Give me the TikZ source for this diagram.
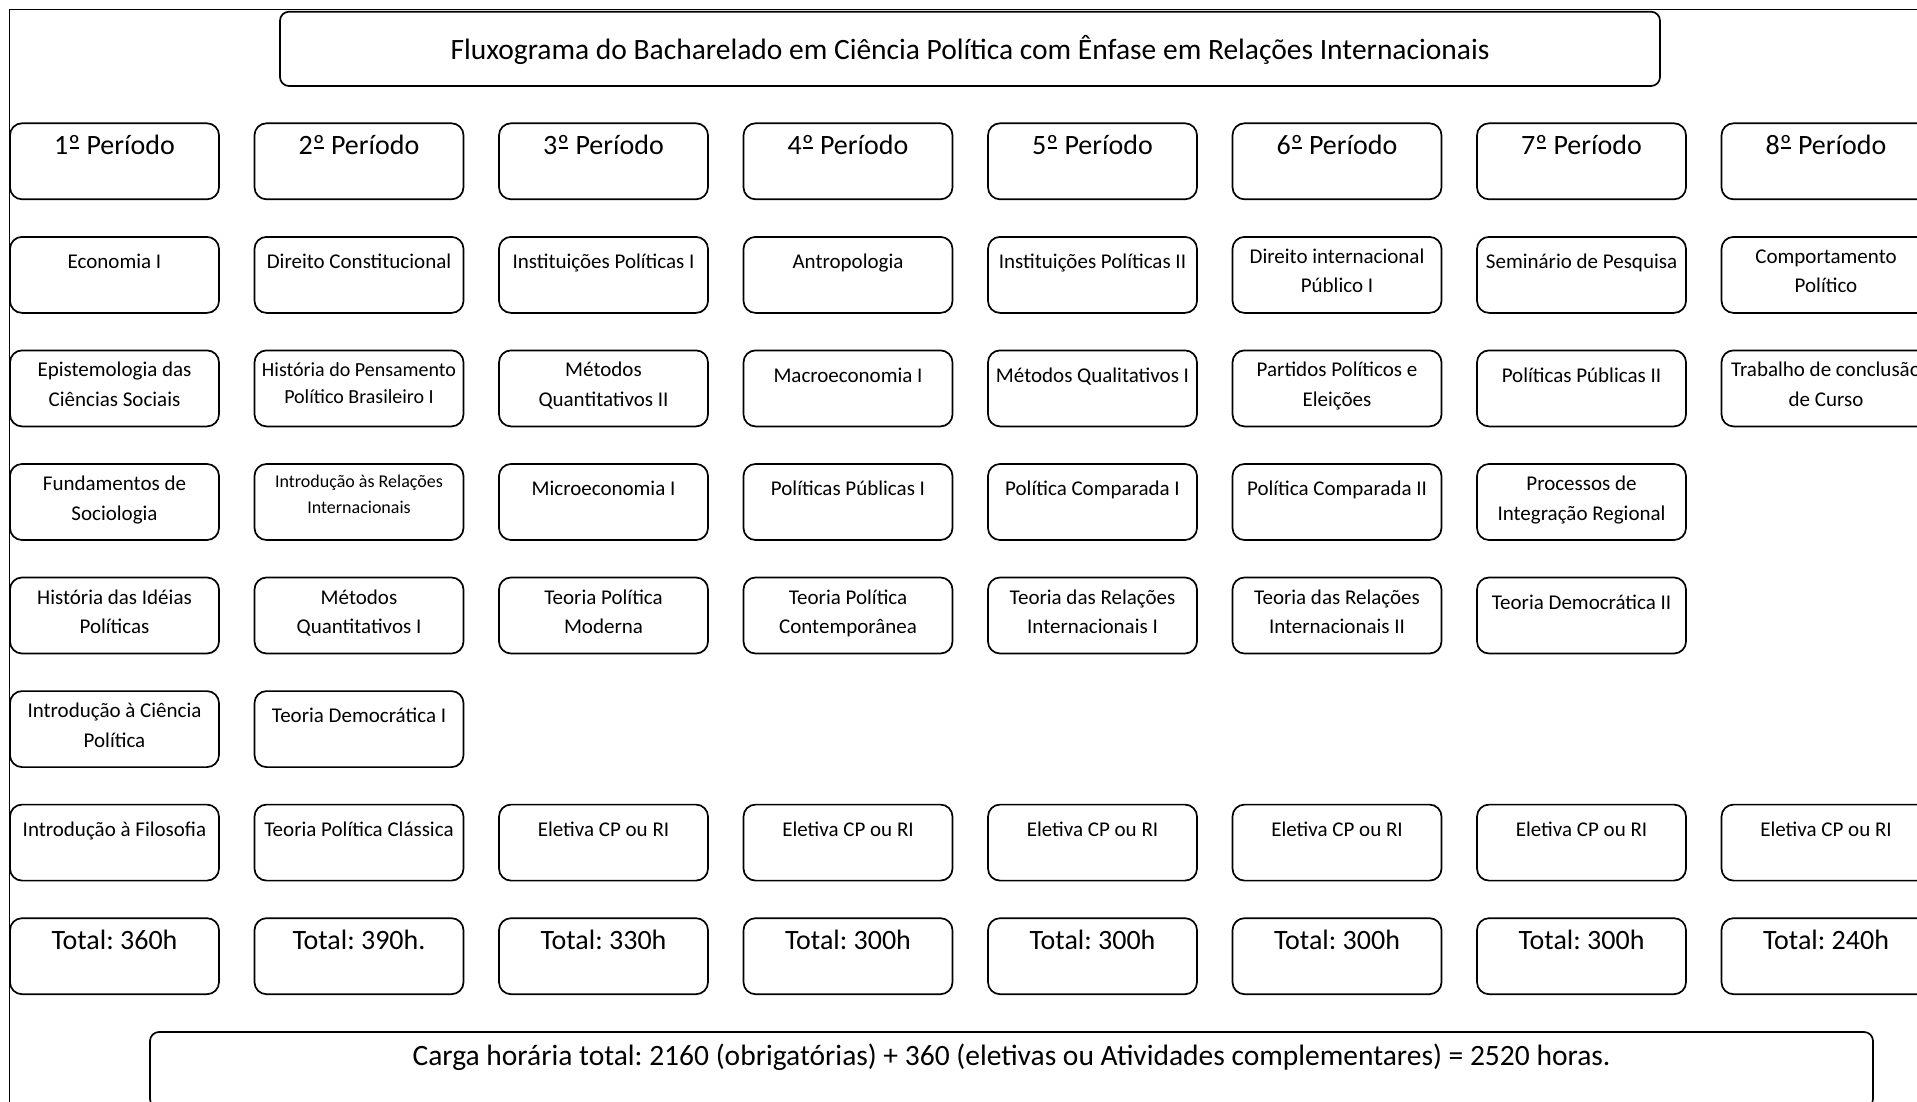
\documentclass[tikz,border=0pt]{standalone}
\usepackage{fontspec}
\setmainfont{Carlito}
\frenchspacing
\newlength\pxu \setlength\pxu{0.5pt}
% #1 height px, #2 width px, #3 first baseline px, #4 font, #5 text
\newcommand\tbox[5]{\parbox[t][#1\pxu][t]{#2\pxu}{\centering#4\rule{0pt}{#3\pxu}#5\par}}
\newcommand\fsub{\fontsize{10.5pt}{14.75pt}\selectfont}
\newcommand\fbig{\fontsize{14pt}{17pt}\selectfont}
\newcommand\fhead{\fontsize{14.75pt}{17pt}\selectfont}
\newcommand\cone[1]{\tbox{76}{209}{31.6}{\fsub}{#1}}
\newcommand\ctwo[1]{\tbox{76}{209}{26.5}{\fsub}{#1}}
\newcommand\cbig[1]{\tbox{76}{209}{31.6}{\fbig}{#1}}
% underlined ordinal indicator (as in the reference font)
\newcommand\ordm{\setbox0\hbox{º}\rlap{\hspace{0.1\wd0}\rule[0.22em]{0.8\wd0}{0.055em}}\box0}
\tikzset{
  cell/.style={draw, line width=0.85pt, rounded corners=6pt, inner sep=0pt, outer sep=0pt, anchor=north west},
  wide/.style={draw, line width=0.85pt, rounded corners=4.5pt, inner sep=0pt, outer sep=0pt, anchor=north west},
  frame/.style={draw, line width=0.85pt}
}
\begin{document}
\begin{tikzpicture}[x=0.5pt,y=-0.5pt]
\useasboundingbox (0,0) rectangle (1917,1102);
\fill[white] (0,0) rectangle (1917,1102);
\clip (0,0) rectangle (1917,1102);
\draw[frame] (9.5,9.5) rectangle (2100,1300);
% title
\node[wide] (title) at (280,11.7) {\tbox{74.3}{1380}{48.3}{\fhead}{Fluxograma do Bacharelado em Ciência Política com Ênfase em Relações Internacionais}};
% periods
\node[cell] (p1) at (10,123.3) {\cbig{1\ordm{} Período}};
\node[cell] (p2) at (254.5,123.3) {\cbig{2\ordm{} Período}};
\node[cell] (p3) at (499,123.3) {\cbig{3\ordm{} Período}};
\node[cell] (p4) at (743.5,123.3) {\cbig{4\ordm{} Período}};
\node[cell] (p5) at (988,123.3) {\cbig{5\ordm{} Período}};
\node[cell] (p6) at (1232.5,123.3) {\cbig{6\ordm{} Período}};
\node[cell] (p7) at (1477,123.3) {\cbig{7\ordm{} Período}};
\node[cell] (p8) at (1721.5,123.3) {\cbig{8\ordm{} Período}};
% row 2
\node[cell] (s12) at (10,236.9) {\cone{Economia I}};
\node[cell] (s22) at (254.5,236.9) {\cone{Direito Constitucional}};
\node[cell] (s32) at (499,236.9) {\cone{Instituições Políticas I}};
\node[cell] (s42) at (743.5,236.9) {\cone{Antropologia}};
\node[cell] (s52) at (988,236.9) {\cone{Instituições Políticas II}};
\node[cell] (s62) at (1232.5,236.9) {\ctwo{Direito internacional\\Público I}};
\node[cell] (s72) at (1477,236.9) {\cone{Seminário de Pesquisa}};
\node[cell] (s82) at (1721.5,236.9) {\ctwo{Comportamento\\Político}};
% row 3
\node[cell] (s13) at (10,350.4) {\ctwo{Epistemologia das\\Ciências Sociais}};
\node[cell] (s23) at (254.5,350.4) {\tbox{76}{209}{26}{\fontsize{10pt}{13.5pt}\selectfont}{História do Pensamento\\Político Brasileiro I}};
\node[cell] (s33) at (499,350.4) {\ctwo{Métodos\\Quantitativos II}};
\node[cell] (s43) at (743.5,350.4) {\cone{Macroeconomia I}};
\node[cell] (s53) at (988,350.4) {\cone{Métodos Qualitativos I}};
\node[cell] (s63) at (1232.5,350.4) {\ctwo{Partidos Políticos e\\Eleições}};
\node[cell] (s73) at (1477,350.4) {\cone{Políticas Públicas II}};
\node[cell] (s83) at (1721.5,350.4) {\ctwo{Trabalho de conclusão\\de Curso}};
% row 4
\node[cell] (s14) at (10,464) {\ctwo{Fundamentos de\\Sociologia}};
\node[cell] (s24) at (254.5,464) {\tbox{76}{209}{23}{\fontsize{9pt}{13pt}\selectfont}{Introdução às Relações\\Internacionais}};
\node[cell] (s34) at (499,464) {\cone{Microeconomia I}};
\node[cell] (s44) at (743.5,464) {\cone{Políticas Públicas I}};
\node[cell] (s54) at (988,464) {\cone{Política Comparada I}};
\node[cell] (s64) at (1232.5,464) {\cone{Política Comparada II}};
\node[cell] (s74) at (1477,464) {\ctwo{Processos de\\Integração Regional}};
% row 5
\node[cell] (s15) at (10,577.5) {\ctwo{História das Idéias\\Políticas}};
\node[cell] (s25) at (254.5,577.5) {\ctwo{Métodos\\Quantitativos I}};
\node[cell] (s35) at (499,577.5) {\ctwo{Teoria Política\\Moderna}};
\node[cell] (s45) at (743.5,577.5) {\ctwo{Teoria Política\\Contemporânea}};
\node[cell] (s55) at (988,577.5) {\ctwo{Teoria das Relações\\Internacionais I}};
\node[cell] (s65) at (1232.5,577.5) {\ctwo{Teoria das Relações\\Internacionais II}};
\node[cell] (s75) at (1477,577.5) {\cone{Teoria Democrática II}};
% row 6
\node[cell] (s16) at (10,691.1) {\ctwo{Introdução à Ciência\\Política}};
\node[cell] (s26) at (254.5,691.1) {\cone{Teoria Democrática I}};
% row 7
\node[cell] (s17) at (10,804.6) {\cone{Introdução à Filosofia}};
\node[cell] (s27) at (254.5,804.6) {\cone{Teoria Política Clássica}};
\node[cell] (e3) at (499,804.6) {\cone{Eletiva CP ou RI}};
\node[cell] (e4) at (743.5,804.6) {\cone{Eletiva CP ou RI}};
\node[cell] (e5) at (988,804.6) {\cone{Eletiva CP ou RI}};
\node[cell] (e6) at (1232.5,804.6) {\cone{Eletiva CP ou RI}};
\node[cell] (e7) at (1477,804.6) {\cone{Eletiva CP ou RI}};
\node[cell] (e8) at (1721.5,804.6) {\cone{Eletiva CP ou RI}};
% totals
\node[cell] (t1) at (10,918.2) {\cbig{Total: 360h}};
\node[cell] (t2) at (254.5,918.2) {\cbig{Total: 390h.}};
\node[cell] (t3) at (499,918.2) {\cbig{Total: 330h}};
\node[cell] (t4) at (743.5,918.2) {\cbig{Total: 300h}};
\node[cell] (t5) at (988,918.2) {\cbig{Total: 300h}};
\node[cell] (t6) at (1232.5,918.2) {\cbig{Total: 300h}};
\node[cell] (t7) at (1477,918.2) {\cbig{Total: 300h}};
\node[cell] (t8) at (1721.5,918.2) {\cbig{Total: 240h}};
% grand total
\node[wide] (grand) at (150,1032) {\tbox{76}{1723}{33.3}{\fhead}{Carga horária total: 2160 (obrigatórias) + 360 (eletivas ou Atividades complementares) = 2520 horas.}};
\end{tikzpicture}
\end{document}
